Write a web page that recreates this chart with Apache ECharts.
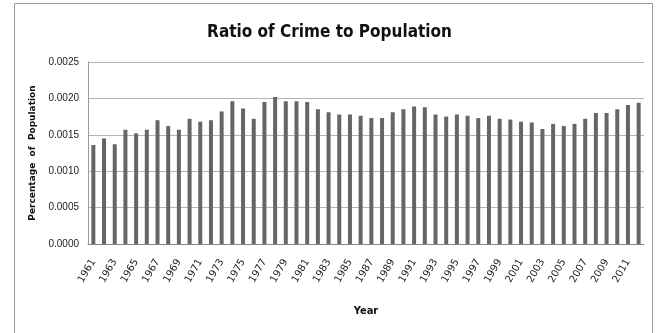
<!DOCTYPE html>
<html>
<head>
<meta charset="utf-8">
<script src="https://cdn.jsdelivr.net/npm/echarts@6/dist/echarts.min.js"></script>
<style>
  html, body { margin: 0; padding: 0; background: #fff; }
  #chart { width: 659px; height: 333px; }
</style>
</head>
<body>
<div id="chart"></div>
<script>
// years 1961 - 2012
var years = [];
for (var y = 1961; y <= 2012; y++) {
    years.push(String(y));
}

var ratio = [
    0.00136, 0.00145, 0.00137, 0.00157, 0.00152, 0.00157, 0.00170, 0.00162, 0.00157, 0.00172,
    0.00168, 0.00170, 0.00182, 0.00196, 0.00186, 0.00172, 0.00195, 0.00202, 0.00196, 0.00196,
    0.00195, 0.00185, 0.00181, 0.00178, 0.00178, 0.00176, 0.00173, 0.00173, 0.00181, 0.00185,
    0.00189, 0.00188, 0.00178, 0.00175, 0.00178, 0.00176, 0.00173, 0.00176, 0.00172, 0.00171,
    0.00168, 0.00167, 0.00158, 0.00165, 0.00162, 0.00165, 0.00172, 0.00180, 0.00180, 0.00185,
    0.00191, 0.00194
];

var yTicks = [0, 0.0005, 0.0010, 0.0015, 0.0020, 0.0025];

var chart = echarts.init(document.getElementById('chart'));

option = {
    animation: false,
    title: {
        text: 'Ratio of Crime to Population',
        left: 'center',
        top: 19,
        textStyle: {
            fontFamily: 'DejaVu Sans Condensed, sans-serif',
            fontSize: 17,
            fontWeight: 'bold',
            color: '#111'
        }
    },
    graphic: [{
        type: 'polyline',
        shape: { points: [[14.5, 340], [14.5, 3.5], [652.5, 3.5], [652.5, 340]] },
        style: { stroke: '#999', fill: null, lineWidth: 1 }
    }],
    grid: {
        left: 88,
        right: 15,
        top: 62,
        bottom: 89
    },
    xAxis: {
        type: 'category',
        data: years,
        name: 'Year',
        nameLocation: 'middle',
        nameGap: 62,
        nameTextStyle: {
            fontFamily: 'DejaVu Sans Condensed, sans-serif',
            fontWeight: 'bold',
            fontSize: 11,
            color: '#111'
        },
        axisLine: { lineStyle: { color: '#888' } },
        axisTick: { show: false },
        axisLabel: {
            interval: 1,
            rotate: 60,
            margin: 16,
            fontFamily: 'DejaVu Sans, sans-serif',
            fontSize: 10,
            color: '#222'
        }
    },
    yAxis: {
        type: 'value',
        min: 0,
        max: 0.0025,
        interval: 0.0005,
        name: 'Percentage  of  Population',
        nameLocation: 'middle',
        nameGap: 46,
        nameTextStyle: {
            fontFamily: 'DejaVu Sans, sans-serif',
            fontWeight: 'bold',
            fontSize: 9,
            color: '#111'
        },
        axisLine: { show: true, lineStyle: { color: '#999' } },
        axisTick: { show: false },
        axisLabel: {
            fontFamily: 'Liberation Sans, sans-serif',
            fontSize: 10,
            color: '#222',
            margin: 9,
            formatter: function (v) { return v.toFixed(4); }
        },
        splitLine: { lineStyle: { color: '#b4b4b4' } }
    },
    series: [{
        name: 'Ratio',
        type: 'bar',
        data: ratio,
        barWidth: 4,
        itemStyle: { color: '#666666' }
    }]
};

chart.setOption(option);
</script>
</body>
</html>
